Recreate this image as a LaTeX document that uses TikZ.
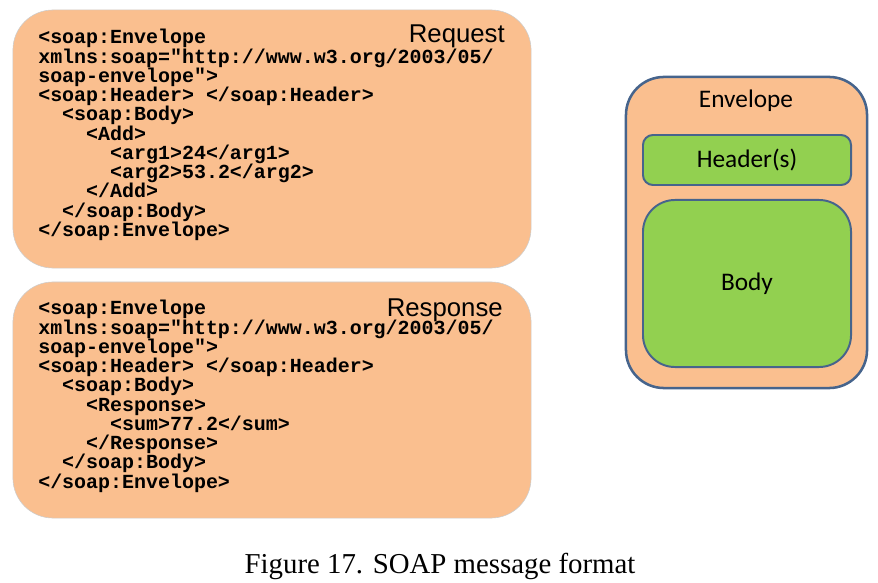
\documentclass[tikz,border=0pt]{standalone}
\usepackage{fontspec}
\setmainfont{Liberation Serif}
\setsansfont{Liberation Sans}
\setmonofont{Liberation Mono}
\newfontfamily\calibrifont{Carlito}
\usepackage{tikz}
\usetikzlibrary{positioning}
\definecolor{SoapOrange}{RGB}{250,191,143}
\definecolor{SoapGreen}{RGB}{146,208,80}
\definecolor{SoapBlue}{RGB}{70,100,140}
\definecolor{SoapEdge}{RGB}{205,205,205}

\begin{document}
\begin{tikzpicture}[
      x=0.025cm, y=-0.025cm,
      msgbox/.style={draw=SoapEdge, fill=SoapOrange, rounded corners=1cm,
                     minimum width=12.95cm},
      code/.style={anchor=north west, inner sep=0pt, align=left,
                   font=\ttfamily\bfseries\fontsize{14.2}{13.7}\selectfont},
      tag/.style={anchor=base east, inner sep=0pt,
                  font=\sffamily\fontsize{18.3}{20}\selectfont},
      envbox/.style={draw=SoapBlue, line width=1.8pt, fill=SoapOrange,
                     rounded corners=0.95cm},
      part/.style={draw=SoapBlue, line width=1.4pt, fill=SoapGreen,
                   minimum width=5.2cm,
                   font=\calibrifont\fontsize{18}{20}\selectfont}
    ]
    \useasboundingbox (0,0) rectangle (878,583);

    % request message
    \node[msgbox, minimum height=6.45cm] (request) at (272,139) {};
    \node[tag] (reqtag) at (505,43) {Request};
    \node[code] (reqcode) at (38,29) {%
      <soap:Envelope\\
      xmlns:soap="http://www.w3.org/2003/05/\\
      soap-envelope">\\
      <soap:Header> </soap:Header>\\
      ~~<soap:Body>\\
      ~~~~<Add>\\
      ~~~~~~<arg1>24</arg1>\\
      ~~~~~~<arg2>53.2</arg2>\\
      ~~~~</Add>\\
      ~~</soap:Body>\\
      </soap:Envelope>};

    % response message
    \node[msgbox, minimum height=5.9cm] (response) at (272,400) {};
    \node[tag] (resptag) at (503,316) {Response};
    \node[code] (respcode) at (38,300) {%
      <soap:Envelope\\
      xmlns:soap="http://www.w3.org/2003/05/\\
      soap-envelope">\\
      <soap:Header> </soap:Header>\\
      ~~<soap:Body>\\
      ~~~~<Response>\\
      ~~~~~~<sum>77.2</sum>\\
      ~~~~</Response>\\
      ~~</soap:Body>\\
      </soap:Envelope>};

    % envelope structure
    \node[envbox, minimum width=6.025cm, minimum height=7.775cm] (envelope) at (746.5,232.5) {};
    \node[font=\calibrifont\fontsize{18}{20}\selectfont] (envtag) at (746,101) {Envelope};
    \node[part, rounded corners=0.25cm, minimum height=1.25cm] (header) at (747,160) {Header(s)};
    \node[part, rounded corners=0.8cm, minimum height=4.175cm] (body) at (747,283.5) {Body};

    % caption
    \node[font=\fontsize{20.5}{24}\selectfont] (caption) at (440,566) {Figure 17. SOAP message format};
  \end{tikzpicture}
\end{document}
